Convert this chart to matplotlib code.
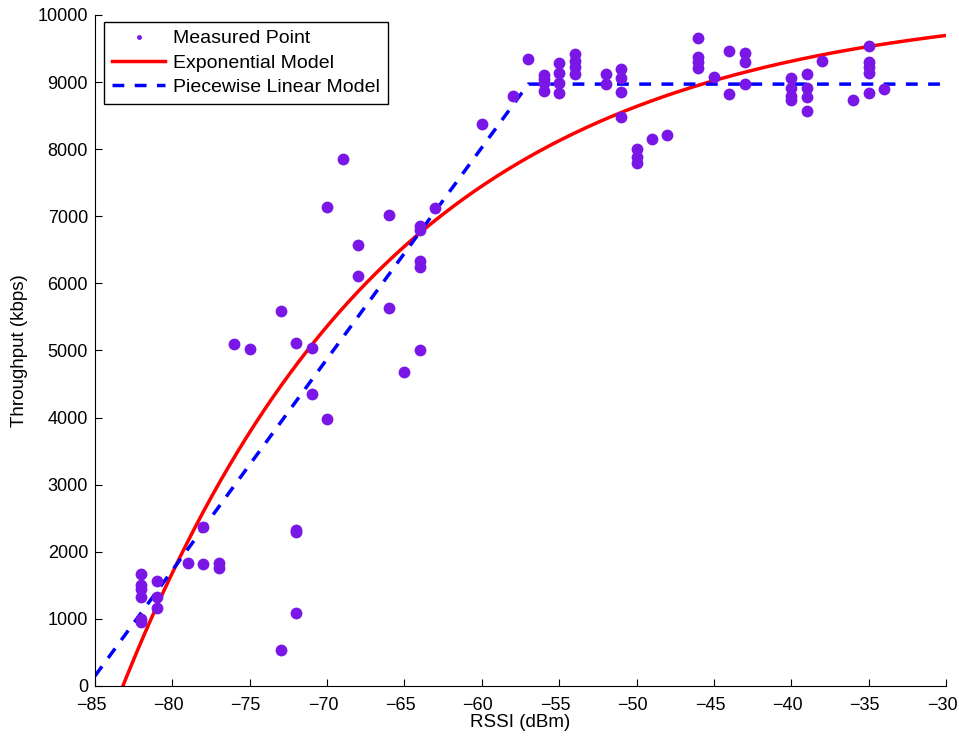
import numpy as np
import matplotlib.pyplot as plt
import matplotlib.transforms as mtransforms
from matplotlib.lines import Line2D

plt.rcParams['font.family'] = ['Liberation Sans', 'DejaVu Sans']

# Measured points: RSSI (dBm) and throughput (kbps)
rssi = [-82, -82, -82, -82, -82, -82,
        -81, -81, -81,
        -79, -78, -78, -77, -77,
        -76, -75, -73, -73, -72, -72, -72, -72,
        -71, -71, -70, -70, -69, -68, -68, -66, -66,
        -65, -64, -64, -64, -64, -64, -63,
        -60, -58, -57,
        -56, -56, -56, -56,
        -55, -55, -55, -55,
        -54, -54, -54, -54,
        -52, -52,
        -51, -51, -51, -51,
        -50, -50, -50, -49, -48,
        -46, -46, -46, -46, -45,
        -44, -44, -43, -43, -43,
        -40, -40, -40, -40,
        -39, -39, -39, -39, -38,
        -36, -35, -35, -35, -35, -35, -34]
thru = [1670, 1505, 1445, 1330, 955, 1000,
        1565, 1330, 1165,
        1830, 2370, 1820, 1830, 1760,
        5100, 5020, 5590, 540, 5110, 2320, 1090, 2300,
        5040, 4350, 7140, 3980, 7854, 6570, 6110, 7020, 5630,
        4680, 6855, 6800, 6330, 6245, 5010, 7120,
        8376, 8793, 9344,
        9106, 9046, 8987, 8867,
        9285, 9136, 8987, 8838,
        9419, 9314, 9225, 9121,
        9121, 8972,
        9195, 9061, 8852, 8480,
        8003, 7884, 7794, 8152, 8212,
        9657, 9374, 9300, 9210, 9076,
        9463, 8823, 9434, 9300, 8972,
        9061, 8912, 8793, 8733,
        9121, 8912, 8778, 8569, 9314,
        8733, 9538, 9300, 9225, 9136, 8838, 8897]

# Exponential model parameters
exp_a = 10200
exp_k = 0.0565
exp_x0 = -83.2

# Piecewise linear model: ramp then saturation
pw_x = [-85, -57, -30]
pw_y = [150, 8970, 8970]

x = np.linspace(-85, -30, 400)
y_exp = exp_a * (1 - np.exp(-exp_k * (x - exp_x0)))

fig = plt.figure(figsize=(9.59, 7.38), dpi=100)
ax = fig.add_axes([95/959, 52/738, 851/959, 671/738])

purple = '#7a17e6'
blue_dash = (3.4, 3.0)
ax.plot(rssi, thru, 'o', color=purple, markersize=8.5, markeredgewidth=0, zorder=3)
ax.plot(x, y_exp, color='#ff0000', linewidth=2.5, zorder=2)
ax.plot(pw_x, pw_y, '--', color='#0000ff', linewidth=2.5, dashes=blue_dash, zorder=2)

ax.set_xlim(-85, -30)
ax.set_ylim(0, 10000)
ax.set_xticks(range(-85, -29, 5))
ax.set_yticks(range(0, 10001, 1000))
ax.spines['top'].set_visible(False)
ax.spines['right'].set_visible(False)
ax.tick_params(direction='in', labelsize=13, length=5)
ax.tick_params(axis='x', pad=8)
ax.tick_params(axis='y', pad=5)

# nudge x tick labels a little to the left
shift = mtransforms.ScaledTranslation(-4/100, 0, fig.dpi_scale_trans)
for lbl in ax.get_xticklabels():
    lbl.set_transform(lbl.get_transform() + shift)

ax.set_xlabel('RSSI (dBm)', fontsize=13.5)
ax.set_ylabel('Throughput (kbps)', fontsize=13.5)
ax.xaxis.set_label_coords(0.5, -0.041)
ax.yaxis.set_label_coords(-0.079, 0.5)

handles = [Line2D([], [], linestyle='none', marker='o', color=purple, markersize=2.5),
           Line2D([], [], color='#ff0000', linewidth=2.5),
           Line2D([], [], color='#0000ff', linewidth=2.5, linestyle='--', dashes=blue_dash)]
leg = ax.legend(handles, ['Measured Point', 'Exponential Model', 'Piecewise Linear Model'],
                loc='upper left', fontsize=14, fancybox=False, framealpha=1,
                edgecolor='black', borderpad=0.4, labelspacing=0.35, handlelength=2.75,
                handletextpad=0.4, borderaxespad=0, bbox_to_anchor=(9/851, 1 - 7/671))
leg.get_frame().set_linewidth(1.0)

fig.savefig('out.png', dpi=100)
